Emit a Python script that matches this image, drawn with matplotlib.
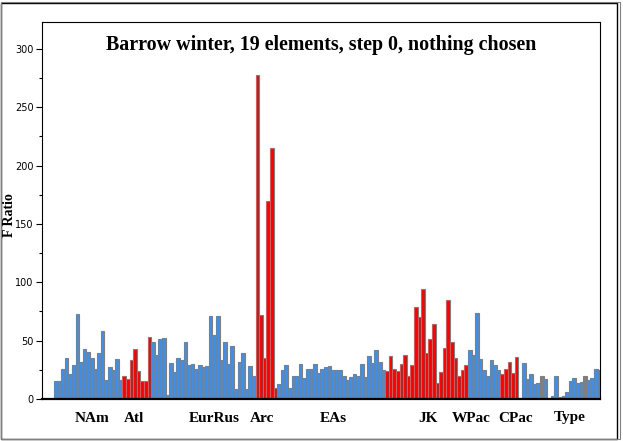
import numpy as np
import matplotlib
matplotlib.use("Agg")
import matplotlib.pyplot as plt
from matplotlib.patches import Rectangle

# F ratio per element/source pair left to right
values = [15, 15.4, 26, 35, 21, 29, 73, 32, 43, 40, 35, 26, 39, 58, 16, 27, 25, 34, 16,
          20, 17, 33, 43, 24, 15,
          15, 53,
          48.6, 37.7, 51, 52, 3.4, 31, 23, 35, 33, 49, 29, 30, 26, 29, 27, 28, 71, 55, 71,
          33, 49, 30, 45, 8.6,
          32, 39, 8.6, 28, 20,
          278, 72, 35, 170, 215, 9,
          12.6, 25, 29, 9, 20, 20, 30, 18, 26, 26, 30, 22, 26, 27,
          28, 24.6, 25, 25, 20, 16, 18.6, 21, 20, 30, 18.6, 36.6, 31, 41.7, 32, 24.6,
          23.7, 36.6, 26, 23.7, 30, 37.4, 19.4, 29, 78.6, 70,
          94, 39, 51, 64, 13.4, 23, 44, 84.6, 48.6, 35, 19.4, 24.6, 29,
          41.7, 38, 73.4, 34, 24.6, 20, 33, 29, 24.6,
          21, 26, 32, 22, 35.7,
          1, 31, 17, 21, 12.6, 13.4, 20, 17, 0.6, 2.3, 20, 1.4, 2.3, 5.7, 15, 17.7,
          13.4, 14.3, 20, 16, 17.7, 25.4, 24.6]

# b = blue, r = red (significant), g = gray
kinds = (["b"] * 19 + ["r"] * 8 + ["b"] * 29 + ["r"] * 6 + ["b"] * 30 + ["r"] * 23
         + ["b"] * 9 + ["r"] * 5 + ["g"] + ["b"] * 5 + ["g"] + ["b"] * 11 + ["g"] + ["b"] * 4)

groups = ["NAm", "Atl", "EurRus", "Arc", "EAs", "JK", "WPac", "CPac", "Type"]
group_pos = [10.0, 21.7, 43.9, 57.3, 77.0, 103.4, 115.3, 127.8, 142.8]

colmap = {"b": "#3f8fe8", "r": "#ff0000", "g": "#808080"}
colors = [colmap[k] for k in kinds]

fig = plt.figure(figsize=(6.23, 4.41), dpi=100)
ax = fig.add_axes([42/623, 42/441, 558/623, 377/441])

x = np.arange(len(values))
ax.bar(x, values, width=1.0, color=colors, edgecolor="#7f7f7f", linewidth=0.8)

ax.set_xlim(-3.83, len(values) - 0.83)
ax.set_ylim(0, 323)
ax.set_yticks(np.arange(0, 301, 50))
ax.set_yticks(np.arange(0, 301, 25), minor=True)
ax.tick_params(axis="y", which="major", direction="out", length=4, width=0.8, labelsize=7, pad=2)
ax.tick_params(axis="y", which="minor", direction="out", length=2, width=0.8)
ax.set_xticks(group_pos)
ax.set_xticklabels(groups, fontfamily="Liberation Serif", fontweight="bold", fontsize=11)
ax.tick_params(axis="x", length=0, pad=9)

for s in ax.spines.values():
    s.set_linewidth(0.8)
ax.spines["bottom"].set_linewidth(1.6)

fig.text(10/623, 1 - 215/441, "F Ratio", rotation=90, ha="center", va="center",
         fontfamily="Liberation Serif", fontweight="bold", fontsize=10)
ax.text(0.5, 0.939, "Barrow winter, 19 elements, step 0, nothing chosen",
        transform=ax.transAxes, ha="center", va="center",
        fontfamily="Liberation Serif", fontweight="bold", fontsize=14.4)

# window frame around the figure
fig.patches.append(Rectangle((0.002, 0.004), 0.988, 0.99, transform=fig.transFigure,
                             fill=False, edgecolor="black", linewidth=1.0))
fig.patches.append(Rectangle((0.002, 0.004), 0.993, 0.992, transform=fig.transFigure,
                             fill=False, edgecolor="#808080", linewidth=0.8))

fig.savefig("out.png", dpi=100)
